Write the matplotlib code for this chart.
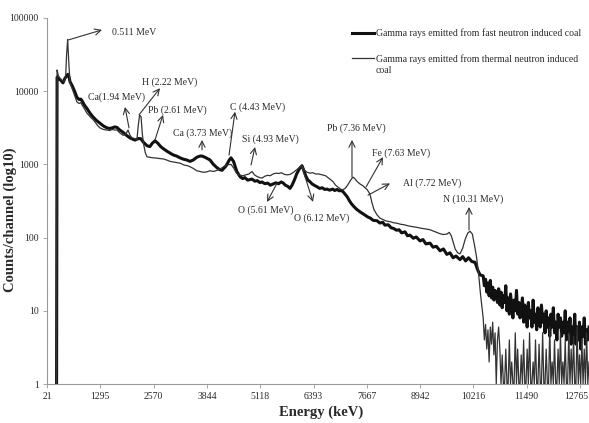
import numpy as np
import matplotlib
matplotlib.use("Agg")
import matplotlib.pyplot as plt

plt.rcParams["font.family"] = ["Liberation Serif", "DejaVu Serif"]

# ---------------------------------------------------------------------------
# Data (energy in keV, counts per channel)
# ---------------------------------------------------------------------------

FAST_KEV = [250, 262, 285, 330, 380, 404, 450, 500, 523, 550, 571, 619, 680,
            738, 790, 830, 858, 920, 977, 1050, 1121, 1200, 1288, 1370, 1456,
            1520, 1575, 1640, 1695, 1760, 1838, 1920, 2006, 2080, 2125, 2200,
            2260, 2330, 2412, 2480, 2540, 2603, 2670, 2740, 2795, 2900, 3034,
            3120, 3201, 3280, 3360, 3440, 3520, 3600, 3679, 3727, 3800, 3918,
            4000, 4086, 4150, 4205, 4300, 4380, 4420, 4480, 4560,
            4636, 4700, 4750, 4820, 4923, 4990, 5050, 5110, 5162, 5230, 5300,
            5360, 5425, 5490, 5560, 5620, 5664, 5720, 5780, 5831, 5880, 5940,
            5990, 6060, 6118, 6160, 6210, 6260, 6309, 6360, 6420, 6477, 6540,
            6600, 6660, 6716, 6780, 6850, 6900, 6955, 7010, 7050, 7098, 7150,
            7200, 7250, 7300, 7360, 7420, 7490, 7576, 7640, 7700, 7750, 7820,
            7911, 7980, 8050, 8100, 8180, 8250, 8300, 8380, 8440, 8500, 8580,
            8640, 8700, 8780, 8850, 8940, 9010, 9080, 9180, 9250, 9330, 9420,
            9500, 9580, 9657, 9730, 9800, 9896, 9960, 10030, 10100, 10180,
            10255, 10320, 10374]
FAST_COUNTS = [1, 15500, 15000, 14500, 13500, 13000, 15000, 16500, 17000,
               15500, 13500, 12000, 10000, 8200, 7700, 7800, 7400, 6400, 5800,
               5000, 4450, 4000, 3650, 3350, 3150, 3100, 3150, 3250, 3200,
               2950, 2750, 2500, 2300, 2200, 2150, 2250, 2250, 2000, 1800,
               1750, 1950, 2100, 1950, 1750, 1650, 1500, 1350, 1300, 1230,
               1180, 1150, 1100, 1150, 1250, 1300, 1300, 1250, 1150, 1000,
               900, 850, 830, 950, 1150, 1230, 1100, 800,
               680, 640, 660, 610, 630, 590, 600, 565, 575, 545, 555,
               520, 540, 560, 545, 575, 560, 520, 500, 470, 520, 620,
               740, 880, 960, 830, 690, 610, 580, 540, 515, 495, 470,
               480, 455, 460, 445, 460, 440, 455, 435, 440, 425, 390,
               360, 320, 290, 265, 245, 228, 212, 200, 190, 185, 172,
               170, 158, 162, 148, 150, 136, 134, 126, 128, 116, 120,
               106, 108, 98, 102, 90, 94, 82, 84, 74, 76, 66,
               70, 59, 62, 53, 56, 50, 55, 48, 53, 47,
               46, 36, 31]
# noisy high-energy tail of the fast-neutron spectrum (10.45 - 12.98 MeV)
FAST_TAIL = [30, 22, 27, 18, 24, 16, 26, 15, 21, 14, 19, 17, 13, 20, 12, 18,
             11, 16, 13, 22, 10, 15, 9, 17, 12, 8, 14, 10, 19, 9, 13, 8, 11, 15,
             7, 12, 9, 6, 13, 8, 10, 6, 14, 7, 9, 5.5, 11, 8, 6, 12, 7, 9,
             5, 10, 6, 8, 4.5, 9, 6, 11, 5, 7, 4, 9, 6, 8, 4.5, 7, 5, 10,
             4, 7, 5, 8, 3.5, 6, 4.5, 9, 3.5, 6, 4, 7, 3, 6, 4.5, 8, 3.5, 5.5,
             4, 6]

THERMAL_KEV = [250, 262, 290, 330, 380, 430, 465, 490, 515, 540, 571, 619,
               680, 738, 790, 830, 858, 920, 977, 1050, 1121, 1169, 1230,
               1288, 1370, 1456, 1520, 1575, 1640, 1695, 1760, 1838, 1900,
               1958, 2006, 2053, 2120, 2173, 2200, 2235, 2270, 2300, 2330,
               2370, 2412, 2480, 2555, 2640, 2720, 2795, 2880, 2960, 3034,
               3120, 3201, 3300, 3380, 3440, 3520, 3600, 3679, 3760, 3840,
               3918, 4000, 4086, 4150, 4205, 4280, 4350, 4420, 4480, 4550,
               4636, 4700, 4780, 4850, 4923, 4980, 5050, 5110, 5162, 5230,
               5300, 5360, 5425, 5500, 5560, 5620, 5700, 5760, 5831, 5900,
               5960, 6030, 6090, 6118, 6180, 6240, 6309, 6380, 6440, 6520,
               6600, 6680, 6740, 6800, 6860, 6920, 6980, 7040, 7090, 7150,
               7218, 7280, 7337, 7380, 7440, 7505, 7576, 7624, 7680, 7744,
               7790, 7840, 7911, 7980, 8055, 8140, 8222, 8300, 8390, 8480,
               8560, 8629, 8700, 8800, 8870, 8940, 9050, 9179, 9300, 9418,
               9500, 9585, 9640, 9690, 9729, 9780, 9840, 9896, 9960, 10020,
               10080, 10135, 10190, 10240, 10290, 10340, 10390]
THERMAL_COUNTS = [1, 19500, 16500, 15000, 14000, 13500, 15000, 32000, 51000,
                  26000, 13000, 11000, 8800, 7100, 6800, 7000, 6500, 5700,
                  5000, 4500, 4100, 3800, 3400, 3150, 3000, 2950, 2900, 3000,
                  2950, 2950, 2700, 2500, 2550, 2950, 2500, 2300, 2250, 2200,
                  3300, 4700, 4500, 2600, 1900, 1450, 1270, 1250, 1230, 1220,
                  1200, 1190, 1150, 1100, 1080, 1060, 1040, 980, 960, 930,
                  880, 820, 800, 780, 790, 820, 800, 830, 860, 900, 960, 990,
                  1000, 900, 760, 710, 700, 720, 740, 800, 720, 680, 660, 650,
                  690, 710, 700, 740, 760, 750, 770, 730, 720, 730, 770, 820,
                  880, 940, 950, 830, 780, 760, 770, 740, 740, 720, 700, 660,
                  620, 580, 520, 490, 460, 450, 470, 530, 610, 670, 640, 580,
                  540, 510, 480, 450, 390, 300, 240, 205, 185, 176, 168, 165,
                  160, 157, 152, 150, 146, 143, 140, 138, 135, 132, 128, 120,
                  113, 110, 112, 118, 105, 88, 70, 62, 60, 72, 95, 115, 122,
                  112, 80, 55, 32, 16]
# thermal-neutron tail, mostly at the bottom of the log axis
THERMAL_TAIL = [8, 4, 6.5, 3, 5.5, 2, 6, 3.5, 7, 2.5, 5, 1, 4, 6, 3, 1,
                2.5, 1, 1, 3, 1, 1, 4, 1, 2, 1, 1, 5, 1, 3, 1, 1, 2.5, 1,
                4, 1, 1, 3, 1, 5, 1, 1, 2, 1, 4, 1, 1, 3.5, 1, 1, 5, 1,
                1, 3, 1, 1, 6, 1, 2, 1, 4, 1, 1, 3, 1, 5, 1, 2, 1, 4,
                1, 1, 5, 1, 3, 1, 4.5, 1, 1, 6, 1, 2.5, 1, 4, 1, 3, 1, 5, 1, 2]
TAIL_START_KEV = 10450
TAIL_END_KEV = 12980

X_TICKS = [21, 1295, 2570, 3844, 5118, 6393, 7667, 8942, 10216, 11490, 12765]
Y_TICKS = [1, 10, 100, 1000, 10000, 100000]

# (label, arrow tail on the curve, arrow head, text anchor) in keV / counts
PEAKS = [
    ("0.511 MeV",     (523, 50000),  (1336, 68800), (1575, 62800)),
    ("Ca(1.94 MeV)",  (1982, 3150),  (1886, 6100),  (1001, 8200)),
    ("H (2.22 MeV)",  (2221, 4750),  (2723, 11000), (2293, 13200)),
    ("Pb (2.61 MeV)", (2603, 2160),  (2795, 4750),  (2436, 5550)),
    ("Ca (3.73 MeV)", (3727, 1580),  (3727, 2160),  (3034, 2700)),
    ("C (4.43 MeV)",  (4373, 1340),  (4516, 5250),  (4397, 6100)),
    ("Si (4.93 MeV)", (4899, 980),   (4995, 1730),  (4683, 2200)),
    ("O (5.61 MeV)",  (5520, 550),   (5281, 307),   (4588, 237)),
    ("O (6.12 MeV)",  (6118, 920),   (6381, 307),   (5927, 186)),
    ("Pb (7.36 MeV)", (7313, 670),   (7313, 2160),  (6716, 3150)),
    ("Fe (7.63 MeV)", (7648, 490),   (8055, 1260),  (7791, 1430)),
    ("Al (7.72 MeV)", (7696, 380),   (8222, 550),   (8533, 550)),
    ("N (10.31 MeV)", (10111, 127),  (10111, 262),  (9490, 336)),
]

TEXT_COLOR = "#2a2a2a"

# ---------------------------------------------------------------------------
# Plot
# ---------------------------------------------------------------------------

fast_x = np.concatenate([FAST_KEV, np.linspace(TAIL_START_KEV, TAIL_END_KEV, len(FAST_TAIL))])
fast_y = np.concatenate([FAST_COUNTS, FAST_TAIL])
thermal_x = np.concatenate([THERMAL_KEV, np.linspace(TAIL_START_KEV, TAIL_END_KEV, len(THERMAL_TAIL))])
thermal_y = np.concatenate([THERMAL_COUNTS, THERMAL_TAIL])

fig = plt.figure(figsize=(5.89, 4.23), dpi=100)
ax = fig.add_axes([47 / 589, 39 / 423, 542 / 589, 366 / 423])

ax.plot(fast_x, fast_y, color="#111111", lw=2.2,
        label="Gamma rays emitted from fast neutron induced coal", zorder=3)
ax.plot(thermal_x, thermal_y, color="#333333", lw=0.9,
        label="Gamma rays emitted from thermal neutron induced", zorder=4)

ax.set_yscale("log")
ax.set_xlim(21, 12980)
ax.set_ylim(1, 100000)
ax.set_xticks(X_TICKS)
# the last label sits at the figure edge; it is drawn separately below
ax.set_xticklabels([str(t) for t in X_TICKS[:-1]] + [""])
ax.set_yticks(Y_TICKS)
ax.set_yticklabels([str(t) for t in Y_TICKS])
ax.minorticks_off()
ax.tick_params(axis="both", labelsize=7, length=3, width=0.6, color="#999999",
               labelcolor=TEXT_COLOR, pad=3)
ax.annotate(str(X_TICKS[-1]), xy=(X_TICKS[-1], 0),
            xycoords=ax.get_xaxis_transform(),
            xytext=(6, -6), textcoords="offset points",
            ha="right", va="top", fontsize=7, color=TEXT_COLOR,
            annotation_clip=False)

for side in ("top", "right"):
    ax.spines[side].set_visible(False)
for side in ("left", "bottom"):
    ax.spines[side].set_color("#999999")
    ax.spines[side].set_linewidth(0.8)

ax.set_xlabel("Energy (keV)", fontsize=10.5, fontweight="bold", color=TEXT_COLOR)
ax.set_ylabel("Counts/channel (log10)", fontsize=10.5, fontweight="bold", color=TEXT_COLOR)
ax.xaxis.set_label_coords(0.505, -0.058)
ax.yaxis.set_label_coords(-0.055, 0.45)

for label, tail, head, text_pos in PEAKS:
    ax.annotate("", xy=head, xytext=tail,
                arrowprops=dict(arrowstyle="->", color="#333333", lw=0.8,
                                shrinkA=0, shrinkB=0, mutation_scale=11),
                zorder=5)
    ax.text(text_pos[0], text_pos[1], label, fontsize=7, color=TEXT_COLOR,
            ha="left", va="center", zorder=6)

leg = ax.legend(loc="upper left", bbox_to_anchor=(0.562, 0.972), frameon=False,
                fontsize=7, handlelength=2.35, handletextpad=0.15,
                labelspacing=1.65, borderaxespad=0, borderpad=0)
for text in leg.get_texts():
    text.set_color(TEXT_COLOR)

# wrapped remainder of the second legend label, placed under its first line
fig.canvas.draw()
bb = leg.get_texts()[1].get_window_extent()
fig.text(bb.x0 / fig.bbox.width, (bb.y0 - 2) / fig.bbox.height, "coal",
         ha="left", va="top", fontsize=7, color=TEXT_COLOR)

fig.savefig("out.png", dpi=100)
